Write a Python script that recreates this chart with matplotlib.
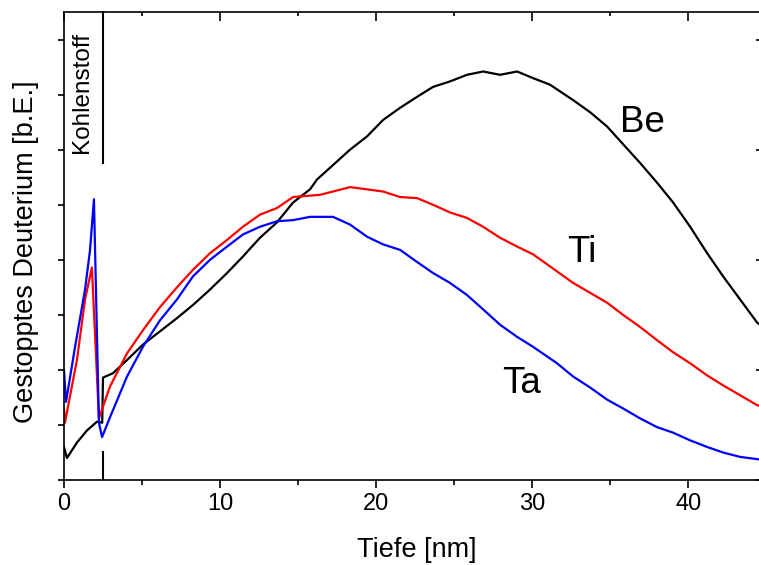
import matplotlib.pyplot as plt
from matplotlib.ticker import MultipleLocator, NullFormatter

plt.rcParams['font.family'] = ['Liberation Sans', 'DejaVu Sans']

# Tiefe [nm] und gestopptes Deuterium [b.E.]
be_x = [0, 0.19, 0.83, 1.47, 2.12, 2.45, 2.5, 3.14, 4.04, 5.06, 6.15, 7.24, 8.27,
        9.36, 10.45, 11.47, 12.56, 13.65, 14.68, 15.77, 16.22, 17.24, 18.33, 19.42,
        20.45, 21.54, 22.63, 23.65, 24.74, 25.83, 26.86, 27.95, 29.04, 30.06, 31.15,
        32.63, 33.72, 34.81, 35.83, 36.92, 38.01, 39.04, 40.13, 41.22, 42.24, 43.33,
        44.42, 44.8]
be_y = [0.3, 0.2, 0.34, 0.45, 0.53, 0.52, 0.93, 0.97, 1.09, 1.23, 1.35, 1.47, 1.59,
        1.73, 1.88, 2.03, 2.2, 2.34, 2.52, 2.64, 2.73, 2.86, 3.0, 3.12,
        3.27, 3.38, 3.48, 3.57, 3.62, 3.68, 3.71, 3.68, 3.71, 3.65, 3.59,
        3.45, 3.34, 3.21, 3.05, 2.88, 2.7, 2.52, 2.3, 2.06, 1.85, 1.64,
        1.43, 1.39]

ti_x = [0, 0.06, 0.83, 1.35, 1.79, 2.24, 2.95, 4.04, 5.06, 6.15, 7.24, 8.27, 9.36,
        10.45, 11.47, 12.56, 13.65, 14.68, 16.41, 17.24, 18.33, 19.42, 20.45, 21.54,
        22.63, 23.65, 24.74, 25.83, 26.86, 27.95, 29.04, 30.06, 31.15, 32.63, 33.72,
        34.81, 35.83, 36.92, 38.01, 39.04, 40.13, 41.22, 42.24, 43.33, 44.42, 44.8]
ti_y = [0.64, 0.52, 1.09, 1.64, 1.93, 0.56, 0.85, 1.15, 1.36, 1.57, 1.75, 1.91, 2.06,
        2.18, 2.3, 2.41, 2.47, 2.57, 2.59, 2.62, 2.66, 2.64, 2.62, 2.57,
        2.56, 2.5, 2.43, 2.38, 2.3, 2.2, 2.12, 2.05, 1.94, 1.79, 1.7,
        1.61, 1.5, 1.39, 1.27, 1.16, 1.06, 0.95, 0.86, 0.77, 0.68, 0.66]

ta_x = [0, 0.13, 0.71, 1.35, 1.67, 1.92, 2.24, 2.44, 2.95, 4.04, 5.06, 6.15, 7.24,
        8.27, 9.36, 10.45, 11.47, 12.56, 13.65, 14.68, 15.77, 17.24, 18.33, 19.42,
        20.45, 21.54, 22.63, 23.65, 24.74, 25.83, 26.86, 27.95, 29.04, 30.06, 31.6,
        32.63, 33.72, 34.81, 35.83, 36.92, 38.01, 39.04, 40.13, 41.22, 42.24, 43.33,
        44.42, 44.8]
ta_y = [1.0, 0.71, 1.21, 1.73, 2.09, 2.55, 0.52, 0.39, 0.57, 0.94, 1.21, 1.45, 1.64,
        1.85, 2.0, 2.12, 2.23, 2.3, 2.35, 2.36, 2.39, 2.39, 2.32, 2.21,
        2.14, 2.09, 1.98, 1.88, 1.79, 1.68, 1.55, 1.41, 1.3, 1.21, 1.06,
        0.94, 0.84, 0.73, 0.65, 0.56, 0.48, 0.43, 0.36, 0.3, 0.25, 0.21,
        0.19, 0.18]

kohlenstoff_x = 2.5

fig = plt.figure(figsize=(7.59, 5.65), dpi=100)
ax = fig.add_axes([0.0843, 0.1504, 0.9210, 0.8283])

ax.plot(be_x, be_y, color='black', lw=1.6)
ax.plot(ti_x, ti_y, color='#ff0000', lw=1.6)
ax.plot(ta_x, ta_y, color='#0000ff', lw=1.6)

ax.set_xlim(0, 44.8)
ax.set_ylim(0, 4.25)

# Kohlenstoff-Schicht
ax.plot([kohlenstoff_x, kohlenstoff_x], [2.88, 4.25], color='black', lw=1.5, clip_on=False)
ax.plot([kohlenstoff_x, kohlenstoff_x], [0, 0.25], color='black', lw=1.5)
ax.text(1.15, 3.52, 'Kohlenstoff', rotation=90, ha='center', va='center', fontsize=17.5)

ax.text(37.05, 3.25, 'Be', ha='center', va='center', fontsize=26.5)
ax.text(33.2, 2.07, 'Ti', ha='center', va='center', fontsize=26.5)
ax.text(29.3, 0.88, 'Ta', ha='center', va='center', fontsize=26.5)

ax.spines['right'].set_visible(False)
ax.spines['top'].set_visible(False)
for s in ['left', 'bottom']:
    ax.spines[s].set_linewidth(1.2)

ax.xaxis.set_major_locator(MultipleLocator(10))
ax.xaxis.set_minor_locator(MultipleLocator(5))
ax.yaxis.set_major_locator(MultipleLocator(1))
ax.yaxis.set_minor_locator(MultipleLocator(0.5))
ax.yaxis.set_major_formatter(NullFormatter())
ax.tick_params(axis='x', which='major', direction='out', length=6, width=1.2,
               labelsize=17, pad=3)
ax.tick_params(axis='x', which='minor', direction='out', length=3.5, width=1.2)
ax.tick_params(axis='y', which='both', direction='out', length=4.5, width=1.2)

top = ax.secondary_xaxis('top')
top.spines['top'].set_linewidth(1.2)
top.xaxis.set_major_locator(MultipleLocator(10))
top.xaxis.set_minor_locator(MultipleLocator(5))
top.xaxis.set_major_formatter(NullFormatter())
top.tick_params(which='major', direction='in', length=6.5, width=1.2)
top.tick_params(which='minor', direction='in', length=3, width=1.2)

right = ax.secondary_yaxis('right')
right.spines['right'].set_linewidth(1.2)
right.yaxis.set_major_locator(MultipleLocator(1))
right.yaxis.set_minor_locator(MultipleLocator(10))
right.yaxis.set_major_formatter(NullFormatter())
right.tick_params(which='major', direction='in', length=5, width=1.2)

ax.set_xlabel('Tiefe [nm]', fontsize=19.5)
ax.set_ylabel('Gestopptes Deuterium [b.E.]', fontsize=19.5)
ax.xaxis.set_label_coords(0.505, -0.122)
ax.yaxis.set_label_coords(-0.036, 0.487)

fig.savefig('out.png', dpi=100)
